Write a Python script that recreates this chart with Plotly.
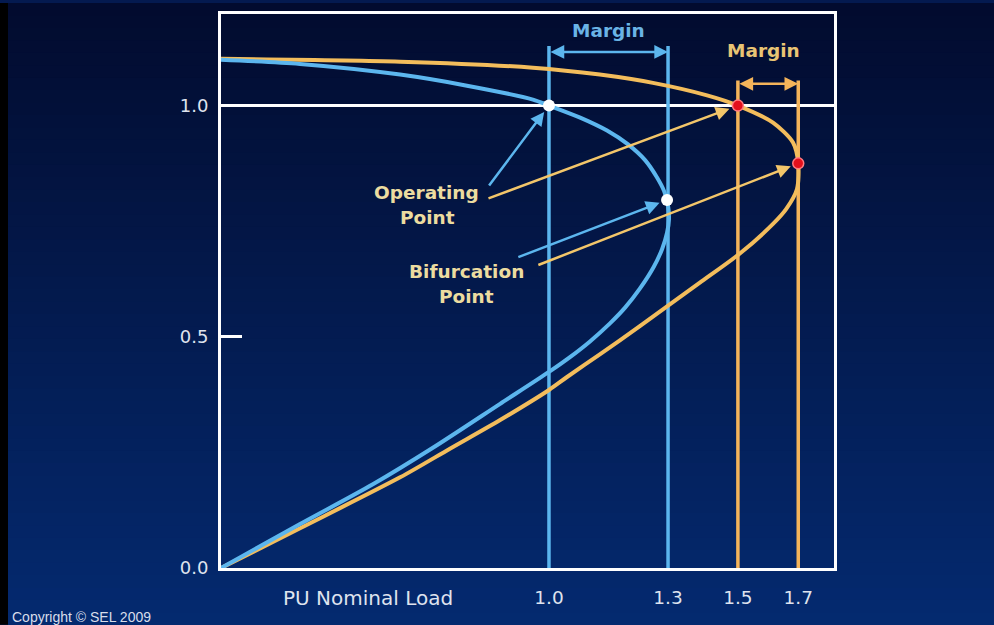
import plotly.graph_objects as go

# ---- P-V (nose) curves: voltage vs. per-unit nominal load ----
blue_load = [0.0, 0.241, 0.546, 0.750, 0.951, 1.0, 1.095, 1.177, 1.241, 1.293, 1.329, 1.351,
             1.363, 1.366, 1.360, 1.345, 1.320, 1.277, 1.232, 1.186, 1.125, 1.064, 1.0,
             0.851, 0.646, 0.463, 0.241, 0.0]
blue_volt = [1.099, 1.090, 1.067, 1.043, 1.013, 1.0, 0.974, 0.946, 0.916, 0.882, 0.845, 0.815,
             0.783, 0.755, 0.725, 0.690, 0.652, 0.604, 0.563, 0.529, 0.490, 0.456, 0.424,
             0.355, 0.260, 0.181, 0.095, 0.0]

yellow_load = [0.0, 0.546, 0.951, 1.155, 1.317, 1.482, 1.576, 1.683, 1.744, 1.760,
               1.756, 1.723, 1.683, 1.582, 1.460, 1.360, 1.277, 1.155, 1.055, 1.0, 0.851,
               0.698, 0.546, 0.241, 0.0]
yellow_volt = [1.101, 1.095, 1.082, 1.067, 1.049, 1.022, 1.0, 0.963, 0.920, 0.875,
               0.819, 0.776, 0.744, 0.680, 0.617, 0.566, 0.523, 0.462, 0.413, 0.385, 0.320,
               0.258, 0.196, 0.086, 0.0]

# operating and bifurcation points (blue case, yellow case)
operating_load = [1.0, 1.576]
operating_volt = [1.0, 1.0]
bifurcation_load = [1.360, 1.760]
bifurcation_volt = [0.796, 0.875]

# axis tick labels
load_tick_text = ["1.0", "1.3", "1.5", "1.7"]
load_tick_pos = [1.0, 1.363, 1.576, 1.760]
volt_tick_vals = [0.0, 0.5, 1.0]
volt_tick_text = ["0.0", "0.5", "1.0"]

X_MAX = 1.869
Y_MAX = 1.198

BLUE = "#5cb6ee"
YELLOW = "#f3bd5c"
YELLOW_LINE = "#f4b45a"
LABEL = "#ecdca0"
TICK = "#dfe3ee"
FONT = "DejaVu Sans"

fig = go.Figure()

# nominal voltage reference line
fig.add_trace(go.Scatter(x=[0, X_MAX], y=[1.0, 1.0], mode="lines",
                         line=dict(color="white", width=3), hoverinfo="skip"))

# margin boundaries
for xv, top, col in [(load_tick_pos[0], 1.129, BLUE), (load_tick_pos[1], 1.129, BLUE),
                     (load_tick_pos[2], 1.054, YELLOW_LINE), (load_tick_pos[3], 1.054, YELLOW_LINE)]:
    fig.add_trace(go.Scatter(x=[xv, xv], y=[0, top], mode="lines",
                             line=dict(color=col, width=3.5), hoverinfo="skip"))

fig.add_trace(go.Scatter(x=yellow_load, y=yellow_volt, mode="lines",
                         line=dict(color=YELLOW, width=4, shape="spline", smoothing=0.8)))
fig.add_trace(go.Scatter(x=blue_load, y=blue_volt, mode="lines",
                         line=dict(color=BLUE, width=4, shape="spline", smoothing=0.8)))

# points on the curves
fig.add_trace(go.Scatter(x=[operating_load[0], bifurcation_load[0]],
                         y=[operating_volt[0], bifurcation_volt[0]], mode="markers",
                         marker=dict(color="white", size=12)))
fig.add_trace(go.Scatter(x=[operating_load[1], bifurcation_load[1]],
                         y=[operating_volt[1], bifurcation_volt[1]], mode="markers",
                         marker=dict(color="#e3101c", size=11, line=dict(color="#ff7a80", width=1.5))))

annotations = []


def arrow(x, y, ax, ay, color, side="end", standoff=0):
    annotations.append(dict(x=x, y=y, ax=ax, ay=ay, xref="x", yref="y", axref="x", ayref="y",
                            text="", showarrow=True, arrowhead=2, startarrowhead=2,
                            arrowside=side, arrowsize=1.1, startarrowsize=1.1, arrowwidth=2.5,
                            arrowcolor=color, standoff=standoff))


def label(x, y, text, color, size=18.5):
    annotations.append(dict(x=x, y=y, xref="x", yref="y", text="<b>%s</b>" % text,
                            showarrow=False, font=dict(family=FONT, size=size, color=color)))


# pointer arrows from the labels
arrow(operating_load[0], operating_volt[0], 0.814, 0.824, BLUE, standoff=8)
arrow(operating_load[1], operating_volt[1], 0.811, 0.798, "#f3c66a", standoff=9)
arrow(bifurcation_load[0], bifurcation_volt[0], 0.902, 0.671, BLUE, standoff=8)
arrow(bifurcation_load[1], bifurcation_volt[1], 0.963, 0.654, "#f3c66a", standoff=8)

# margin double arrows
arrow(load_tick_pos[1], 1.116, load_tick_pos[0], 1.116, BLUE, side="end+start")
arrow(load_tick_pos[3], 1.047, load_tick_pos[2], 1.047, YELLOW_LINE, side="end+start")

label(1.18, 1.163, "Margin", "#6ab4e6")
label(1.655, 1.120, "Margin", "#e9c474")
label(0.628, 0.813, "Operating", LABEL)
label(0.631, 0.759, "Point", LABEL)
label(0.747, 0.641, "Bifurcation", LABEL)
label(0.750, 0.587, "Point", LABEL)

annotations += [
    dict(x=0.448, y=-0.054, xref="x", yref="paper", yanchor="middle", text="PU Nominal Load",
         showarrow=False, font=dict(family=FONT, size=20, color=TICK)),
    dict(x=-0.344, y=-0.088, xref="paper", yref="paper", xanchor="left", yanchor="middle",
         text="Copyright © SEL 2009", showarrow=False,
         font=dict(family="Liberation Sans", size=14, color="#d8ddea")),
]

# vertical navy gradient behind everything
L, R, T, B = 221, 160, 11, 57
W, H = 994, 625
pw, ph = W - L - R, H - T - B
top_rgb = (2, 11, 46)
bot_rgb = (4, 42, 112)
shapes = []
n = 50
for i in range(n):
    p0 = i * H / n
    p1 = (i + 1) * H / n + 1
    f = (i + 0.5) / n
    c = tuple(int(round(top_rgb[k] + (bot_rgb[k] - top_rgb[k]) * f)) for k in range(3))
    shapes.append(dict(type="rect", xref="paper", yref="paper", layer="below",
                       x0=-L / pw, x1=1 + R / pw,
                       y0=(H - B - p1) / ph, y1=(H - B - p0) / ph,
                       line=dict(width=0), fillcolor="rgb(%d,%d,%d)" % c))
shapes.append(dict(type="rect", xref="paper", yref="paper", layer="below",
                   x0=-L / pw, x1=(-L + 8) / pw, y0=-B / ph, y1=1 + T / ph,
                   line=dict(width=0), fillcolor="black"))

fig.update_layout(
    width=W, height=H,
    margin=dict(l=L, r=R, t=T, b=B, pad=0),
    paper_bgcolor="rgb(4,26,80)",
    plot_bgcolor="rgba(0,0,0,0)",
    showlegend=False,
    shapes=shapes,
    annotations=annotations,
    xaxis=dict(range=[0, X_MAX], showgrid=False, zeroline=False,
               showline=True, mirror=True, linecolor="white", linewidth=3,
               tickvals=load_tick_pos, ticktext=load_tick_text, ticks="",
               ticklabelstandoff=11,
               tickfont=dict(family=FONT, size=18.5, color=TICK)),
    yaxis=dict(range=[0, Y_MAX], showgrid=False, zeroline=False,
               showline=True, mirror=True, linecolor="white", linewidth=3,
               tickvals=volt_tick_vals, ticktext=volt_tick_text,
               ticks="inside", ticklen=21, tickwidth=3, tickcolor="white",
               ticklabelstandoff=6,
               tickfont=dict(family=FONT, size=18, color=TICK)),
)

fig.write_html("out.html")
